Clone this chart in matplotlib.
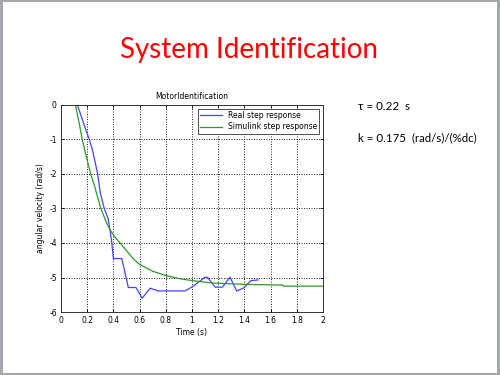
import matplotlib
matplotlib.use("Agg")
import matplotlib.pyplot as plt
from matplotlib.patches import Rectangle

# Data
real_t = [0, 0.125, 0.17, 0.216, 0.24, 0.28, 0.30, 0.33, 0.36, 0.385, 0.40, 0.464, 0.514, 0.572,
          0.62, 0.68, 0.743, 0.947, 1.01, 1.10, 1.12, 1.176, 1.232, 1.29, 1.341, 1.392, 1.45, 1.506]
real_y = [0, 0, -0.5, -1.0, -1.3, -2.0, -2.55, -3.0, -3.3, -3.9, -4.45, -4.45, -5.29, -5.29,
          -5.6, -5.31, -5.39, -5.39, -5.25, -4.99, -5.0, -5.28, -5.28, -4.99, -5.39, -5.31, -5.09, -5.07]

sim_t = [0, 0.11, 0.14, 0.165, 0.2, 0.227, 0.26, 0.3, 0.34, 0.374, 0.42, 0.456, 0.5, 0.55, 0.6,
         0.7, 0.8, 0.9, 1.0, 1.16, 1.415, 1.69, 1.70, 2.0]
sim_y = [0, 0, -0.55, -1.05, -1.6, -2.0, -2.4, -2.95, -3.35, -3.62, -3.87, -4.02, -4.22, -4.45, -4.62,
         -4.82, -4.94, -5.03, -5.09, -5.16, -5.2, -5.22, -5.25, -5.25]

xticks = [0, 0.2, 0.4, 0.6, 0.8, 1, 1.2, 1.4, 1.6, 1.8, 2]
xticklabels = ["0", "0.2", "0.4", "0.6", "0.8", "1", "1.2", "1.4", "1.6", "1.8", "2"]
yticks = [0, -1, -2, -3, -4, -5, -6]
yticklabels = ["0", "-1", "-2", "-3", "-4", "-5", "-6"]

fig = plt.figure(figsize=(5, 3.75), dpi=100, facecolor="#a4a7ab")
fig.patches.append(Rectangle((3 / 500, 2 / 375), 494 / 500, 371 / 375, transform=fig.transFigure,
                             facecolor="white", edgecolor="none", zorder=-10))

ax = fig.add_axes([61 / 500, 1 - 312 / 375, 262 / 500, 207 / 375])
ax.set_zorder(1)
ax.plot(real_t, real_y, color="#4444ff", lw=0.9, label="Real step response")
ax.plot(sim_t, sim_y, color="#2a9a2a", lw=0.9, label="Simulink step response")
ax.set_xlim(0, 2)
ax.set_ylim(-6, 0)
ax.set_xticks(xticks)
ax.set_xticklabels(xticklabels)
ax.set_yticks(yticks)
ax.set_yticklabels(yticklabels)
ax.tick_params(direction="in", labelsize=5.5, length=2.5, width=0.6, top=True, right=True, pad=3)
ax.grid(True, color="black", linestyle=(0, (1.2, 1.8)), linewidth=0.6)
for s in ax.spines.values():
    s.set_linewidth(0.7)
    s.set_color("#333333")
ax.set_title("MotorIdentification", fontsize=5.5, pad=4)
ax.set_xlabel("Time (s)", fontsize=5.5, labelpad=2)
ax.set_ylabel("angular velocity (rad/s)", fontsize=5.5, labelpad=3)
leg = ax.legend(loc="upper right", fontsize=5.5, fancybox=False, framealpha=1, edgecolor="#333333",
                handlelength=2.8, borderpad=0.3, labelspacing=0.3, borderaxespad=0.5)
leg.get_frame().set_linewidth(0.6)

fig.text(0.498, 1 - 50 / 375, "System Identification", color="#ff0000", fontsize=20,
         family="Lato", ha="center", va="center")
fig.text(358 / 500, 1 - 106 / 375, "τ = 0.22  s", fontsize=8.3, family=["Lato", "DejaVu Sans"],
         ha="left", va="center")
fig.text(358 / 500, 1 - 138 / 375, "k = 0.175  (rad/s)/(%dc)", fontsize=8.3, family="Lato",
         ha="left", va="center")

fig.savefig("out.png", dpi=100, facecolor=fig.get_facecolor())
